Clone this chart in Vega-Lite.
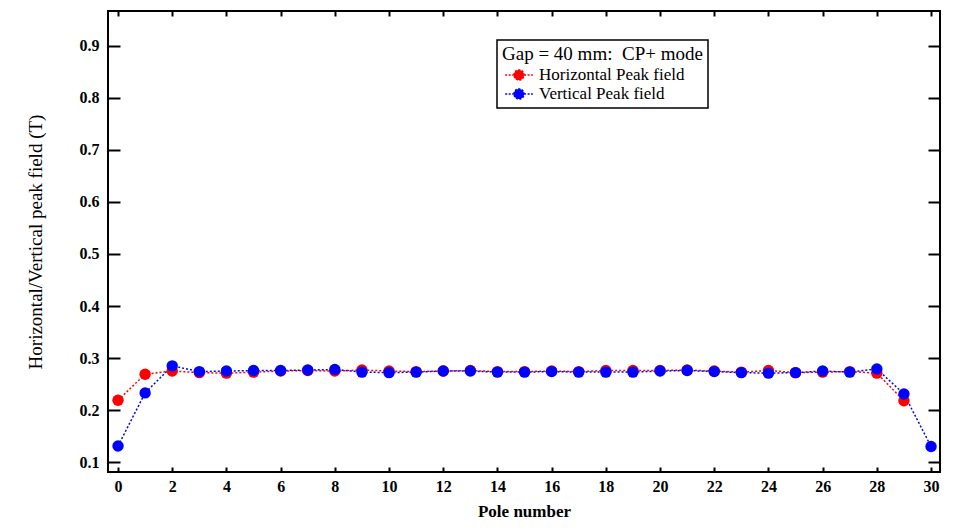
{
  "$schema": "https://vega.github.io/schema/vega-lite/v6.json",
  "autosize": "none",
  "width": 832,
  "height": 461,
  "padding": {"left": 108, "top": 11, "right": 23, "bottom": 60},
  "background": "white",
  "data": {"values": [
    {"pole": 0, "series": "Horizontal Peak field", "field": 0.219},
    {"pole": 1, "series": "Horizontal Peak field", "field": 0.269},
    {"pole": 2, "series": "Horizontal Peak field", "field": 0.275},
    {"pole": 3, "series": "Horizontal Peak field", "field": 0.272},
    {"pole": 4, "series": "Horizontal Peak field", "field": 0.271},
    {"pole": 5, "series": "Horizontal Peak field", "field": 0.273},
    {"pole": 6, "series": "Horizontal Peak field", "field": 0.275},
    {"pole": 7, "series": "Horizontal Peak field", "field": 0.276},
    {"pole": 8, "series": "Horizontal Peak field", "field": 0.275},
    {"pole": 9, "series": "Horizontal Peak field", "field": 0.277},
    {"pole": 10, "series": "Horizontal Peak field", "field": 0.275},
    {"pole": 11, "series": "Horizontal Peak field", "field": 0.274},
    {"pole": 12, "series": "Horizontal Peak field", "field": 0.275},
    {"pole": 13, "series": "Horizontal Peak field", "field": 0.276},
    {"pole": 14, "series": "Horizontal Peak field", "field": 0.274},
    {"pole": 15, "series": "Horizontal Peak field", "field": 0.274},
    {"pole": 16, "series": "Horizontal Peak field", "field": 0.275},
    {"pole": 17, "series": "Horizontal Peak field", "field": 0.274},
    {"pole": 18, "series": "Horizontal Peak field", "field": 0.276},
    {"pole": 19, "series": "Horizontal Peak field", "field": 0.276},
    {"pole": 20, "series": "Horizontal Peak field", "field": 0.276},
    {"pole": 21, "series": "Horizontal Peak field", "field": 0.277},
    {"pole": 22, "series": "Horizontal Peak field", "field": 0.275},
    {"pole": 23, "series": "Horizontal Peak field", "field": 0.273},
    {"pole": 24, "series": "Horizontal Peak field", "field": 0.276},
    {"pole": 25, "series": "Horizontal Peak field", "field": 0.272},
    {"pole": 26, "series": "Horizontal Peak field", "field": 0.273},
    {"pole": 27, "series": "Horizontal Peak field", "field": 0.274},
    {"pole": 28, "series": "Horizontal Peak field", "field": 0.271},
    {"pole": 29, "series": "Horizontal Peak field", "field": 0.218},
    {"pole": 0, "series": "Vertical Peak field", "field": 0.131},
    {"pole": 1, "series": "Vertical Peak field", "field": 0.233},
    {"pole": 2, "series": "Vertical Peak field", "field": 0.285},
    {"pole": 3, "series": "Vertical Peak field", "field": 0.274},
    {"pole": 4, "series": "Vertical Peak field", "field": 0.275},
    {"pole": 5, "series": "Vertical Peak field", "field": 0.276},
    {"pole": 6, "series": "Vertical Peak field", "field": 0.276},
    {"pole": 7, "series": "Vertical Peak field", "field": 0.277},
    {"pole": 8, "series": "Vertical Peak field", "field": 0.278},
    {"pole": 9, "series": "Vertical Peak field", "field": 0.273},
    {"pole": 10, "series": "Vertical Peak field", "field": 0.272},
    {"pole": 11, "series": "Vertical Peak field", "field": 0.273},
    {"pole": 12, "series": "Vertical Peak field", "field": 0.275},
    {"pole": 13, "series": "Vertical Peak field", "field": 0.275},
    {"pole": 14, "series": "Vertical Peak field", "field": 0.273},
    {"pole": 15, "series": "Vertical Peak field", "field": 0.273},
    {"pole": 16, "series": "Vertical Peak field", "field": 0.274},
    {"pole": 17, "series": "Vertical Peak field", "field": 0.273},
    {"pole": 18, "series": "Vertical Peak field", "field": 0.273},
    {"pole": 19, "series": "Vertical Peak field", "field": 0.273},
    {"pole": 20, "series": "Vertical Peak field", "field": 0.275},
    {"pole": 21, "series": "Vertical Peak field", "field": 0.276},
    {"pole": 22, "series": "Vertical Peak field", "field": 0.274},
    {"pole": 23, "series": "Vertical Peak field", "field": 0.272},
    {"pole": 24, "series": "Vertical Peak field", "field": 0.271},
    {"pole": 25, "series": "Vertical Peak field", "field": 0.272},
    {"pole": 26, "series": "Vertical Peak field", "field": 0.275},
    {"pole": 27, "series": "Vertical Peak field", "field": 0.273},
    {"pole": 28, "series": "Vertical Peak field", "field": 0.279},
    {"pole": 29, "series": "Vertical Peak field", "field": 0.231},
    {"pole": 30, "series": "Vertical Peak field", "field": 0.130}
  ]},
  "layer": [
    {
      "mark": {"type": "line", "strokeDash": [2, 2], "strokeWidth": 1.5},
      "encoding": {
        "x": {"field": "pole", "type": "quantitative",
              "scale": {"domain": [-0.37, 30.33], "nice": false, "zero": false},
              "axis": {"orient": "bottom", "values": [0,2,4,6,8,10,12,14,16,18,20,22,24,26,28,30],
                       "title": "Pole number", "tickSize": -5, "labelPadding": 11, "titlePadding": 9, "titleFontSize": 17}},
        "y": {"field": "field", "type": "quantitative",
              "scale": {"domain": [0.081, 0.967], "nice": false, "zero": false},
              "axis": {"orient": "left", "values": [0.1,0.2,0.3,0.4,0.5,0.6,0.7,0.8,0.9], "format": ".1f",
                       "title": "Horizontal/Vertical peak field (T)", "titleFontWeight": "normal", "titleFontSize": 19,
                       "tickSize": -12, "labelPadding": 21, "titlePadding": 34}},
        "color": {"field": "series", "type": "nominal",
                  "scale": {"domain": ["Horizontal Peak field", "Vertical Peak field"], "range": ["#ff0000", "#0000ff"]},
                  "legend": {"title": "Gap = 40 mm:\u00a0 CP+ mode", "orient": "none", "legendX": 389, "legendY": 29,
                             "symbolType": "M -1.5 0 L -0.55 0 M 0.55 0 L 1.5 0 M -0.55 0 A 0.55 0.55 0 1 1 0.55 0 A 0.55 0.55 0 1 1 -0.55 0 Z",
                             "symbolSize": 340, "symbolStrokeWidth": 1.5, "symbolDash": [2, 1.5],
                             "encode": {"symbols": {"update": {"fill": {"scale": "color", "field": "value"}, "stroke": {"scale": "color", "field": "value"}}}}}}
      }
    },
    {
      "mark": {"type": "point", "filled": true, "size": 130, "opacity": 1},
      "encoding": {
        "x": {"field": "pole", "type": "quantitative",
              "axis": {"orient": "top", "values": [0,2,4,6,8,10,12,14,16,18,20,22,24,26,28,30],
                       "labels": false, "title": null, "tickSize": -5}},
        "y": {"field": "field", "type": "quantitative",
              "axis": {"orient": "right", "values": [0.1,0.2,0.3,0.4,0.5,0.6,0.7,0.8,0.9],
                       "labels": false, "title": null, "tickSize": -12}},
        "color": {"field": "series", "type": "nominal"}
      }
    }
  ],
  "resolve": {"axis": {"x": "independent", "y": "independent"}},
  "config": {
    "view": {"stroke": "black", "strokeWidth": 2},
    "axis": {"grid": false, "domain": false, "tickColor": "black", "tickWidth": 2,
             "labelFont": "Liberation Serif", "labelFontWeight": "bold", "labelFontSize": 16, "labelColor": "black",
             "titleFont": "Liberation Serif", "titleFontWeight": "bold", "titleFontSize": 16, "titleColor": "black"},
    "legend": {"strokeColor": "black", "strokeWidth": 1.5, "padding": 5, "fillColor": "white",
               "titleFont": "Liberation Serif", "titleFontWeight": "normal", "titleFontSize": 19, "titleColor": "black",
               "titleLimit": 400, "labelLimit": 400,
               "labelFont": "Liberation Serif", "labelFontSize": 17, "labelColor": "black",
               "titlePadding": 1, "rowPadding": 0, "symbolOffset": 7, "labelOffset": 10}
  }
}
